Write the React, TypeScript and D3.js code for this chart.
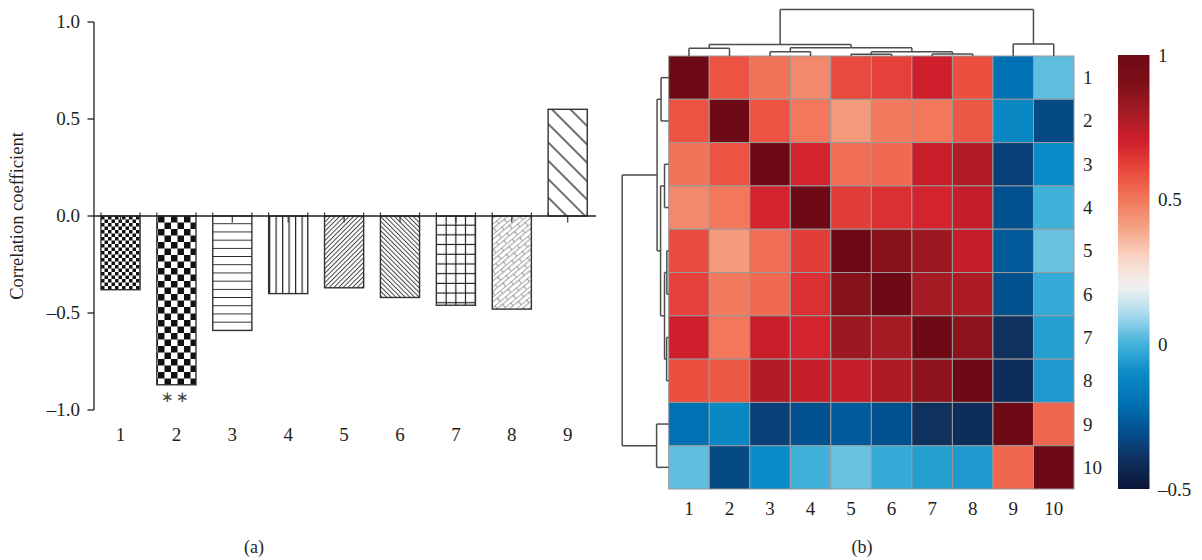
import React from 'react';
import * as d3 from 'd3';

// ---- panel (a) data ----
const barLabels = ['1', '2', '3', '4', '5', '6', '7', '8', '9'];
const barValues = [-0.38, -0.87, -0.59, -0.4, -0.37, -0.42, -0.46, -0.48, 0.55];
const barPatterns = ['checkFine', 'checkCoarse', 'hLines', 'vLines', 'diagUp', 'diagDown', 'grid', 'brick', 'diagWide'];
const barYTicks = [1.0, 0.5, 0.0, -0.5, -1.0];
const barYTickLabels = ['1.0', '0.5', '0.0', '\u20130.5', '\u20131.0'];

// ---- panel (b) data ----
const heatLabels = ['1', '2', '3', '4', '5', '6', '7', '8', '9', '10'];
const corr = [
  [1.0, 0.58, 0.51, 0.46, 0.6, 0.62, 0.7, 0.59, -0.2, 0.03],
  [0.58, 1.0, 0.58, 0.5, 0.42, 0.49, 0.5, 0.57, -0.11, -0.32],
  [0.51, 0.58, 1.0, 0.69, 0.52, 0.53, 0.72, 0.77, -0.35, -0.1],
  [0.46, 0.5, 0.69, 1.0, 0.63, 0.66, 0.69, 0.73, -0.3, 0.0],
  [0.6, 0.42, 0.52, 0.63, 1.0, 0.88, 0.82, 0.73, -0.27, 0.04],
  [0.62, 0.49, 0.53, 0.66, 0.88, 1.0, 0.8, 0.78, -0.3, -0.02],
  [0.7, 0.5, 0.72, 0.69, 0.82, 0.8, 1.0, 0.86, -0.4, -0.05],
  [0.59, 0.57, 0.77, 0.73, 0.73, 0.78, 0.86, 1.0, -0.41, -0.06],
  [-0.2, -0.11, -0.35, -0.3, -0.27, -0.3, -0.4, -0.41, 1.0, 0.54],
  [0.03, -0.32, -0.1, 0.0, 0.04, -0.02, -0.05, -0.06, 0.54, 1.0],
];
const colorStops = [1.0, 0.9, 0.8, 0.7, 0.6, 0.5, 0.4, 0.3, 0.2, 0.1, 0.0, -0.1, -0.2, -0.3, -0.4, -0.5];
const colorValues = [
  '#6e0a16', '#7e1019', '#a41b23', '#d01f2c', '#ea4a3d', '#f2775b', '#f5a385', '#fad5c6',
  '#f2f2f2', '#a6d8ec', '#40b2da', '#0a8ac6', '#0072b4', '#03508f', '#10305e', '#0a1438',
];
const colorbarTicks = [1, 0.5, 0, -0.5];
const colorbarTickLabels = ['1', '0.5', '0', '\u20130.5'];

// hierarchical clustering (same for rows and columns), h = linkage height
const dendrogram = {
  h: 1,
  children: [
    {
      h: 0.25,
      children: [
        { h: 0.165, children: [{ leaf: '1' }, { leaf: '2' }] },
        {
          h: 0.175,
          children: [
            { h: 0.09, children: [{ leaf: '3' }, { leaf: '4' }] },
            {
              h: 0.09,
              children: [
                { h: 0.04, children: [{ leaf: '5' }, { leaf: '6' }] },
                { h: 0.045, children: [{ leaf: '7' }, { leaf: '8' }] },
              ],
            },
          ],
        },
      ],
    },
    { h: 0.26, children: [{ leaf: '9' }, { leaf: '10' }] },
  ],
};

const FONT = '"Liberation Serif", "Times New Roman", serif';
const INK = '#231f20';

type DNode = { h?: number; leaf?: string; children?: DNode[] };

function dendroSegments(pos: (leaf: string) => number) {
  const root = d3.hierarchy<DNode>(dendrogram as DNode);
  const p = new Map<any, number>();
  root.eachAfter((n) => {
    if (n.data.leaf) p.set(n, pos(n.data.leaf));
    else p.set(n, d3.mean(n.children!, (c) => p.get(c)!)!);
  });
  const segs: { a: number; b: number; h0: number; h1: number; cross: boolean }[] = [];
  root.each((n) => {
    if (!n.children) return;
    const h = n.data.h ?? 0;
    const xs = n.children.map((c) => p.get(c)!);
    segs.push({ a: d3.min(xs)!, b: d3.max(xs)!, h0: h, h1: h, cross: true });
    n.children.forEach((c) => {
      segs.push({ a: p.get(c)!, b: p.get(c)!, h0: c.data.h ?? 0, h1: h, cross: false });
    });
  });
  return segs;
}

const Patterns: React.FC = () => (
  <defs>
    <pattern id="checkFine" patternUnits="userSpaceOnUse" width={7} height={7} x={101} y={216}>
      <rect width={7} height={7} fill="#fff" />
      <rect width={3.5} height={3.5} fill="#111" />
      <rect x={3.5} y={3.5} width={3.5} height={3.5} fill="#111" />
    </pattern>
    <pattern id="checkCoarse" patternUnits="userSpaceOnUse" width={13} height={13} x={158} y={216}>
      <rect width={13} height={13} fill="#fff" />
      <rect width={6.5} height={6.5} fill="#111" />
      <rect x={6.5} y={6.5} width={6.5} height={6.5} fill="#111" />
    </pattern>
    <pattern id="hLines" patternUnits="userSpaceOnUse" width={8.2} height={8.2} y={216}>
      <rect width={8.2} height={8.2} fill="#fff" />
      <line x1={0} x2={8.2} y1={8} y2={8} stroke="#222" strokeWidth={1.4} />
    </pattern>
    <pattern id="vLines" patternUnits="userSpaceOnUse" width={6.5} height={6.5} x={269}>
      <rect width={6.5} height={6.5} fill="#fff" />
      <line x1={0.5} x2={0.5} y1={0} y2={6.5} stroke="#222" strokeWidth={1.4} />
    </pattern>
    <pattern id="diagUp" patternUnits="userSpaceOnUse" width={3.3} height={3.3} patternTransform="rotate(45)">
      <rect width={3.3} height={3.3} fill="#fff" />
      <line x1={0.5} x2={0.5} y1={0} y2={3.3} stroke="#333" strokeWidth={0.9} />
    </pattern>
    <pattern id="diagDown" patternUnits="userSpaceOnUse" width={3.3} height={3.3} patternTransform="rotate(-45)">
      <rect width={3.3} height={3.3} fill="#fff" />
      <line x1={0.5} x2={0.5} y1={0} y2={3.3} stroke="#333" strokeWidth={0.9} />
    </pattern>
    <pattern id="grid" patternUnits="userSpaceOnUse" width={9.7} height={9.7} x={437} y={216}>
      <rect width={9.7} height={9.7} fill="#fff" />
      <line x1={9.7} x2={9.7} y1={0} y2={9.7} stroke="#111" strokeWidth={2.2} />
      <line x1={0} x2={9.7} y1={9.7} y2={9.7} stroke="#111" strokeWidth={2.2} />
    </pattern>
    <pattern id="brick" patternUnits="userSpaceOnUse" width={14} height={8} patternTransform="rotate(-40)">
      <rect width={14} height={8} fill="#fff" />
      <line x1={0} x2={14} y1={0.3} y2={0.3} stroke="#666" strokeWidth={0.7} />
      <line x1={0} x2={14} y1={4} y2={4} stroke="#666" strokeWidth={0.7} />
      <line x1={0.3} x2={0.3} y1={0} y2={4} stroke="#666" strokeWidth={0.7} />
      <line x1={7.3} x2={7.3} y1={4} y2={8} stroke="#666" strokeWidth={0.7} />
    </pattern>
    <pattern id="diagWide" patternUnits="userSpaceOnUse" width={13} height={13} patternTransform="rotate(-45)">
      <rect width={13} height={13} fill="#fff" />
      <line x1={1} x2={1} y1={0} y2={13} stroke="#222" strokeWidth={1.3} />
    </pattern>
  </defs>
);

const BarPanel: React.FC = () => {
  const x = d3.scaleBand<string>().domain(barLabels).range([92.55, 595.65]).paddingInner(0.3).paddingOuter(0.15);
  const y = d3.scaleLinear().domain([-1, 1]).range([410, 22]);
  const axisX = 94;
  const y0 = y(0);
  return (
    <g fontFamily={FONT} fill={INK}>
      {barLabels.map((l, i) => {
        const v = barValues[i];
        const x0 = x(l)!;
        const w = x.bandwidth();
        return (
          <g key={l}>
            <rect
              x={x0}
              y={Math.min(y(v), y0)}
              width={w}
              height={Math.abs(y(v) - y0)}
              fill={`url(#${barPatterns[i]})`}
              stroke="#333"
              strokeWidth={1.4}
            />
            <line x1={x0} x2={x0} y1={y0 - 3.5} y2={y0} stroke="#333" strokeWidth={1.2} />
            <line x1={x0 + w} x2={x0 + w} y1={y0 - 3.5} y2={y0} stroke="#333" strokeWidth={1.2} />
            <line x1={x0 + w / 2} x2={x0 + w / 2} y1={y0} y2={y0 + 6.5} stroke="#333" strokeWidth={1.2} />
            <text x={x0 + w / 2} y={441} textAnchor="middle" fontSize={19}>
              {l}
            </text>
          </g>
        );
      })}
      <line x1={axisX} x2={596} y1={y0} y2={y0} stroke={INK} strokeWidth={1.3} />
      <line x1={axisX} x2={axisX} y1={y(1)} y2={y(-1)} stroke={INK} strokeWidth={1.3} />
      {barYTicks.map((t, i) => (
        <g key={t}>
          <line x1={axisX - 6.5} x2={axisX} y1={y(t)} y2={y(t)} stroke={INK} strokeWidth={1.3} />
          <text x={axisX - 14} y={y(t) + 6} textAnchor="end" fontSize={19}>
            {barYTickLabels[i]}
          </text>
        </g>
      ))}
      <text x={x('2')! + x.bandwidth() / 2} y={402} textAnchor="middle" fontSize={15} letterSpacing={2} fill="#444">
        {'\u2217\u2217'}
      </text>
      <text transform={`translate(23,${y0}) rotate(-90)`} textAnchor="middle" fontSize={18.5}>
        Correlation coefficient
      </text>
      <text x={254} y={553} textAnchor="middle" fontSize={18}>
        (a)
      </text>
    </g>
  );
};

const HeatPanel: React.FC = () => {
  const left = 668.7;
  const top = 56;
  const xh = d3.scaleBand<string>().domain(heatLabels).range([left, 1074]);
  const yh = d3.scaleBand<string>().domain(heatLabels).range([top, 489]);
  const color = d3.scaleLinear<string>().domain(colorStops).range(colorValues).interpolate(d3.interpolateRgb);
  const hScale = d3.scaleLinear().domain([0, 1]).range([0, 46.5]);
  const colSegs = dendroSegments((l) => xh(l)! + xh.bandwidth() / 2);
  const rowSegs = dendroSegments((l) => yh(l)! + yh.bandwidth() / 2);
  const cb = d3.scaleLinear().domain([-0.5, 1]).range([489, 55]);
  const gradStops = d3.range(0, 1.0001, 0.02).map((t) => ({ t, c: color(1 - t * 1.5) }));
  return (
    <g fontFamily={FONT} fill={INK}>
      <defs>
        <linearGradient id="cbGrad" x1="0" y1="0" x2="0" y2="1">
          {gradStops.map((s) => (
            <stop key={s.t} offset={s.t} stopColor={s.c} />
          ))}
        </linearGradient>
      </defs>
      {corr.map((row, r) =>
        row.map((v, c) => (
          <rect
            key={`${r}-${c}`}
            x={xh(heatLabels[c])}
            y={yh(heatLabels[r])}
            width={xh.bandwidth()}
            height={yh.bandwidth()}
            fill={color(v)}
            stroke="#9a9a9a"
            strokeWidth={1}
          />
        ))
      )}
      <g stroke="#4d4d4d" strokeWidth={1.5} fill="none">
        {colSegs.map((s, i) =>
          s.cross ? (
            <line key={i} x1={s.a} x2={s.b} y1={top - hScale(s.h0)} y2={top - hScale(s.h0)} />
          ) : (
            <line key={i} x1={s.a} x2={s.a} y1={top - hScale(s.h0)} y2={top - hScale(s.h1)} />
          )
        )}
        {rowSegs.map((s, i) =>
          s.cross ? (
            <line key={i} y1={s.a} y2={s.b} x1={left - hScale(s.h0)} x2={left - hScale(s.h0)} />
          ) : (
            <line key={i} y1={s.a} y2={s.a} x1={left - hScale(s.h0)} x2={left - hScale(s.h1)} />
          )
        )}
      </g>
      {heatLabels.map((l) => (
        <text key={`r${l}`} x={1083} y={yh(l)! + yh.bandwidth() / 2 + 6.5} fontSize={19}>
          {l}
        </text>
      ))}
      {heatLabels.map((l) => (
        <text key={`c${l}`} x={xh(l)! + xh.bandwidth() / 2} y={515} textAnchor="middle" fontSize={19}>
          {l}
        </text>
      ))}
      <rect x={1118} y={cb(1)} width={31.5} height={cb(-0.5) - cb(1)} fill="url(#cbGrad)" />
      {colorbarTicks.map((t, i) => (
        <text key={t} x={1158} y={cb(t) + 6.5} fontSize={19}>
          {colorbarTickLabels[i]}
        </text>
      ))}
      <text x={862} y={553} textAnchor="middle" fontSize={18}>
        (b)
      </text>
    </g>
  );
};

export default function App() {
  return (
    <svg
      width={1202}
      height={560}
      viewBox="0 0 1202 560"
      style={{ position: 'absolute', left: 0, top: 0, background: '#fff' }}
    >
      <Patterns />
      <BarPanel />
      <HeatPanel />
    </svg>
  );
}
